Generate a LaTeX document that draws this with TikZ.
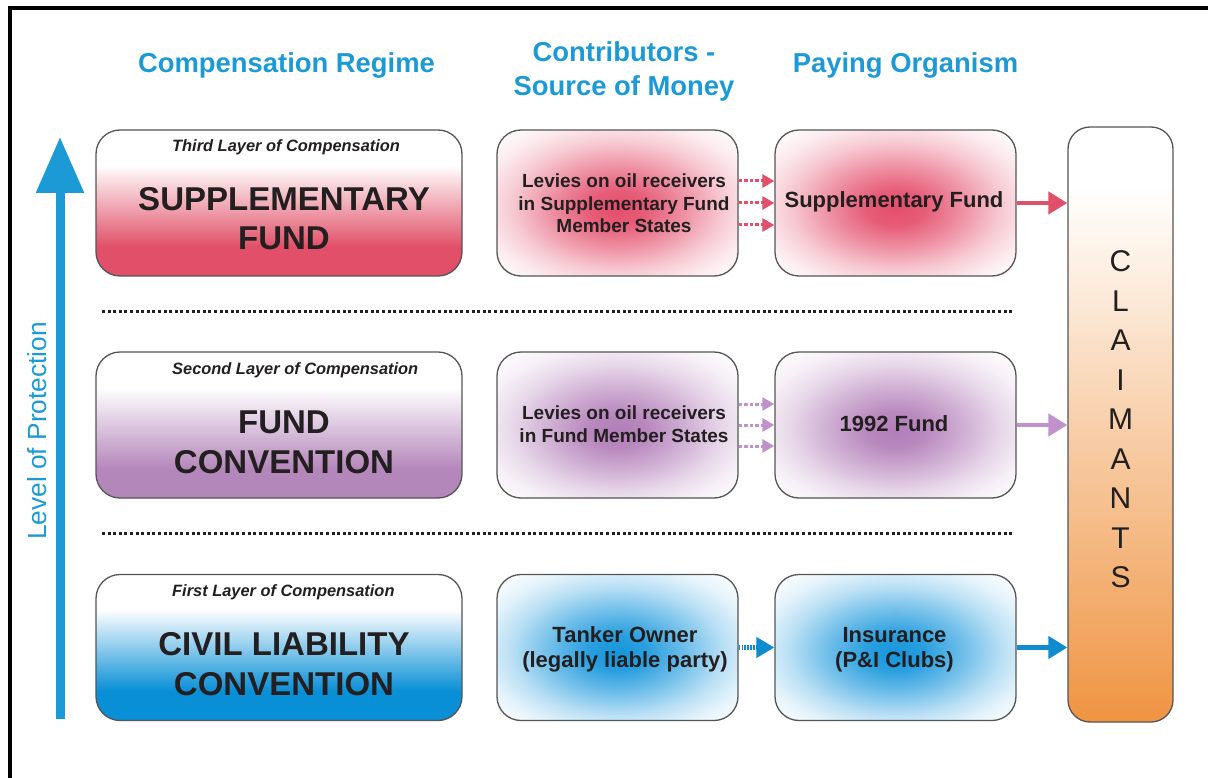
\documentclass[tikz,border=0pt]{standalone}
\usepackage{fontspec}
\setmainfont{Liberation Sans}
\usetikzlibrary{arrows.meta}
\definecolor{hdrblue}{RGB}{28,154,214}
\definecolor{txt}{RGB}{35,31,32}
\definecolor{redc}{RGB}{225,80,104}
\definecolor{purc}{RGB}{180,135,186}
\definecolor{bluc}{RGB}{8,143,214}
\definecolor{redr}{RGB}{228,78,108}
\definecolor{purr}{RGB}{178,126,184}
\definecolor{blur}{RGB}{22,150,220}
\definecolor{orac}{RGB}{239,148,66}
\definecolor{edgec}{RGB}{85,85,85}
\definecolor{redarr}{RGB}{224,80,106}
\definecolor{purarr}{RGB}{192,145,202}
\definecolor{bluarr}{RGB}{16,140,206}
\pgfdeclareverticalshading{redv}{100bp}{color(0bp)=(redc); color(35bp)=(redc); color(63bp)=(white); color(100bp)=(white)}
\pgfdeclareverticalshading{purv}{100bp}{color(0bp)=(purc); color(35bp)=(purc); color(63bp)=(white); color(100bp)=(white)}
\pgfdeclareverticalshading{bluv}{100bp}{color(0bp)=(bluc); color(35bp)=(bluc); color(63bp)=(white); color(100bp)=(white)}
\pgfdeclareverticalshading{orav}{100bp}{color(0bp)=(orac); color(25bp)=(orac); color(70bp)=(white); color(100bp)=(white)}
\pgfdeclareradialshading{redrad}{\pgfpoint{0bp}{-2bp}}{color(0bp)=(redr); color(6bp)=(redr!92!white); color(14bp)=(redr!62!white); color(22bp)=(redr!30!white); color(28bp)=(redr!12!white); color(35bp)=(white); color(50bp)=(white)}
\pgfdeclareradialshading{purrad}{\pgfpoint{0bp}{-2bp}}{color(0bp)=(purr); color(6bp)=(purr!92!white); color(14bp)=(purr!62!white); color(22bp)=(purr!30!white); color(28bp)=(purr!12!white); color(35bp)=(white); color(50bp)=(white)}
\pgfdeclareradialshading{blurad}{\pgfpoint{0bp}{-2bp}}{color(0bp)=(blur); color(6bp)=(blur!92!white); color(14bp)=(blur!62!white); color(22bp)=(blur!30!white); color(28bp)=(blur!12!white); color(35bp)=(white); color(50bp)=(white)}
\begin{document}
\begin{tikzpicture}[x=1pt,y=-1pt,
  lbox/.style={draw=edgec, line width=1.3pt, rounded corners=24pt, shade, minimum width=366pt, minimum height=146pt, inner sep=0pt},
  sbox/.style={draw=edgec, line width=1.3pt, rounded corners=24pt, shade, minimum width=241pt, minimum height=146pt, inner sep=0pt},
  tx/.style={inner sep=0pt, anchor=base, text=txt},
  hdr/.style={inner sep=0pt, anchor=base, text=hdrblue, font=\bfseries\fontsize{27.4}{32}\selectfont},
  subt/.style={inner sep=0pt, anchor=base west, text=txt, font=\bfseries\itshape\fontsize{16.4}{20}\selectfont},
  ttl/.style={tx, font=\bfseries\fontsize{33}{38}\selectfont},
  mtx/.style={tx, font=\bfseries\fontsize{19}{22}\selectfont},
  rtx/.style={tx, font=\bfseries\fontsize{22}{26}\selectfont},
  sep/.style={line width=3pt, dash pattern=on 3pt off 2.6pt, txt},
  darr/.style={line width=3pt, dash pattern=on 3.5pt off 2pt, -{Triangle[width=13pt,length=12pt]}},
  sarr/.style={line width=4.5pt, -{Triangle[width=22pt,length=19pt]}}
]
\useasboundingbox (0,0) rectangle (1208,778);
\fill[white] (0,0) rectangle (1208,778);
% frame
\coordinate (fr1) at (10,790);
\coordinate (fr2) at (10,8);
\coordinate (fr3) at (1220,8);
\draw[line width=3.5pt, black] (fr1) -- (fr2) -- (fr3);

% headers
\node[hdr] (h1) at (286.5,73) {Compensation Regime};
\node[hdr] (h2a) at (624,62) {Contributors -};
\node[hdr] (h2b) at (624,96) {Source of Money};
\node[hdr] (h3) at (905.5,73) {Paying Organism};

% level of protection arrow
\coordinate (lpb) at (60,719);
\coordinate (lpt) at (60,137);
\draw[hdrblue, line width=9pt, -{Triangle[width=46pt,length=56pt]}] (lpb) -- (lpt);
\node[inner sep=0pt, anchor=base, rotate=90, text=hdrblue, font=\fontsize{26.3}{30}\selectfont] (lpl) at (46.5,431) {Level of Protection};

% left boxes
\node[lbox, shading=redv] (r3) at (279,203) {};
\node[lbox, shading=purv] (r2) at (279,425) {};
\node[lbox, shading=bluv] (r1) at (279,647.5) {};
\node[subt] (st3) at (172,152) {Third Layer of Compensation};
\node[subt] (st2) at (172,374) {Second Layer of Compensation};
\node[subt] (st1) at (172,596) {First Layer of Compensation};
\node[ttl] (t3a) at (284,211) {SUPPLEMENTARY};
\node[ttl] (t3b) at (284,250) {FUND};
\node[ttl] (t2a) at (284,433) {FUND};
\node[ttl] (t2b) at (284,473) {CONVENTION};
\node[ttl] (t1a) at (284,655) {CIVIL LIABILITY};
\node[ttl] (t1b) at (284,695) {CONVENTION};

% middle boxes
\node[sbox, shading=redrad] (m3) at (617.5,203) {};
\node[sbox, shading=purrad] (m2) at (617.5,425) {};
\node[sbox, shading=blurad] (m1) at (617.5,647.5) {};
\node[mtx] (m3a) at (624,188) {Levies on oil receivers};
\node[mtx] (m3b) at (624,210.5) {in Supplementary Fund};
\node[mtx] (m3c) at (624,233) {Member States};
\node[mtx] (m2a) at (624,419.5) {Levies on oil receivers};
\node[mtx] (m2b) at (624,442) {in Fund Member States};
\node[rtx] (m1a) at (625,642) {Tanker Owner};
\node[rtx] (m1b) at (625,667) {(legally liable party)};

% right boxes
\node[sbox, shading=redrad] (p3) at (895.5,203) {};
\node[sbox, shading=purrad] (p2) at (895.5,425) {};
\node[sbox, shading=blurad] (p1) at (895.5,647.5) {};
\node[rtx] (p3a) at (894,208) {Supplementary Fund};
\node[rtx] (p2a) at (894,431) {1992 Fund};
\node[rtx] (p1a) at (894.5,642) {Insurance};
\node[rtx] (p1b) at (894.5,667) {(P\&I Clubs)};

% claimants
\node[draw=edgec, line width=1.3pt, rounded corners=22pt, shade, shading=orav, minimum width=105pt, minimum height=595pt, inner sep=0pt] (cl) at (1120.5,424.5) {};
\node[inner sep=0pt, align=center, text=txt, font=\fontsize{30}{39.5}\selectfont] (clt) at (1120.5,419.5) {C\\L\\A\\I\\M\\A\\N\\T\\S};

% separators
\coordinate (s1a) at (102,311);
\coordinate (s1b) at (1012,311);
\coordinate (s2a) at (102,533);
\coordinate (s2b) at (1012,533);
\draw[sep] (s1a) -- (s1b);
\draw[sep] (s2a) -- (s2b);

% contributor -> paying arrows
\draw[darr, redarr] ([yshift=22pt]m3.east) -- ([yshift=22pt]p3.west);
\draw[darr, redarr] (m3.east) -- (p3.west);
\draw[darr, redarr] ([yshift=-22pt]m3.east) -- ([yshift=-22pt]p3.west);
\draw[darr, purarr] ([yshift=21pt]m2.east) -- ([yshift=21pt]p2.west);
\draw[darr, purarr] (m2.east) -- (p2.west);
\draw[darr, purarr] ([yshift=-21pt]m2.east) -- ([yshift=-21pt]p2.west);
\draw[bluarr, line width=4.5pt, dash pattern=on 1.5pt off 1.4pt, -{Triangle[width=20pt,length=18pt]}] (m1.east) -- (p1.west);

% paying -> claimants
\draw[sarr, redarr] (p3.east) -- (p3.east -| cl.west);
\draw[sarr, purarr] (p2.east) -- (p2.east -| cl.west);
\draw[sarr, bluarr] (p1.east) -- (p1.east -| cl.west);
\end{tikzpicture}
\end{document}
